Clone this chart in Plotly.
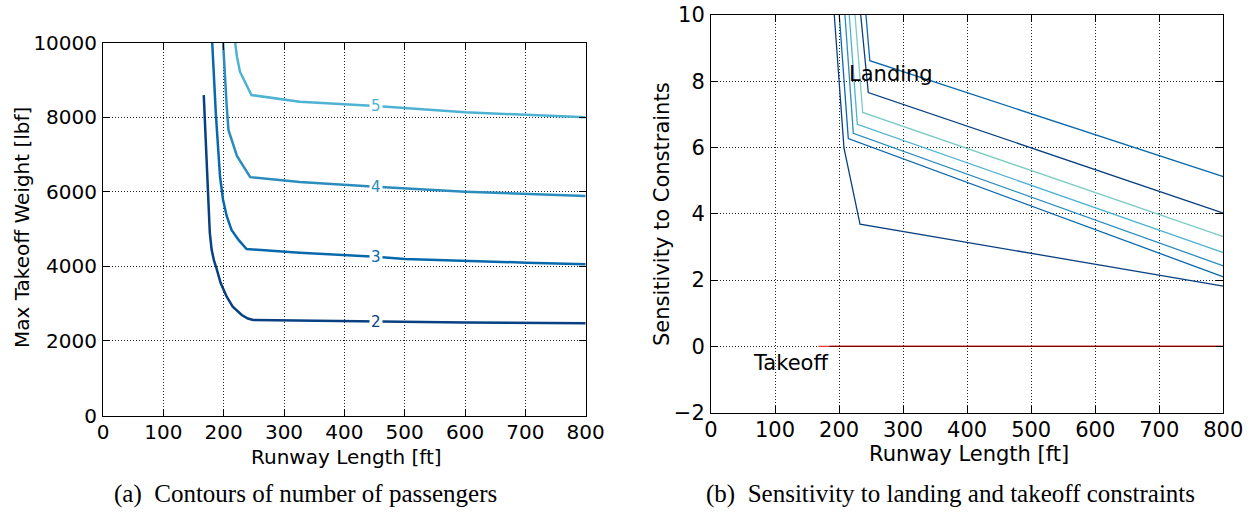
import plotly.graph_objects as go

# ---------------- Left panel data: contours of number of passengers ----------------
pax_levels = [2, 3, 4, 5]
pax_colors = ["#084081", "#0868ac", "#2b8cbe", "#4eb3d3"]

c2_runway = [167, 169, 171, 173, 175, 177, 180, 184, 188, 195, 205, 215, 230, 240, 249, 326, 452, 600, 800]
c2_weight = [8590, 7900, 7300, 6500, 5600, 4900, 4450, 4150, 3950, 3550, 3185, 2920, 2694, 2600, 2560, 2542, 2520, 2495, 2472]

c3_runway = [181, 184, 187, 191, 194, 199, 205, 213, 225, 238, 326, 452, 500, 702, 800]
c3_weight = [10000, 9000, 8100, 7118, 6400, 5777, 5350, 4973, 4700, 4464, 4365, 4257, 4196, 4097, 4054]

c4_runway = [199, 202, 205, 208, 215, 222, 233, 244, 326, 452, 600, 800]
c4_weight = [10000, 9000, 8300, 7650, 7300, 6960, 6670, 6390, 6260, 6130, 6000, 5885]

c5_runway = [219, 222, 227, 246, 326, 452, 600, 800]
c5_weight = [10000, 9620, 9217, 8592, 8413, 8298, 8130, 7995]

contour_runways = [c2_runway, c3_runway, c4_runway, c5_runway]
contour_weights = [c2_weight, c3_weight, c4_weight, c5_weight]
label_runway = 452

# ---------------- Right panel data: sensitivities ----------------
landing_colors = ["#084081", "#0868ac", "#2b8cbe", "#4eb3d3", "#7bccc4", "#084081", "#0868ac"]
landing_runways = [
    [192.5, 207.7, 232.7, 800],
    [200.3, 214.4, 800],
    [209.2, 222.2, 800],
    [215.9, 228.5, 800],
    [224.9, 236.9, 800],
    [233.8, 245.6, 800],
    [242.0, 248.0, 800],
]
landing_sens = [
    [10, 5.98, 3.69, 1.82],
    [10, 6.27, 2.10],
    [10, 6.43, 2.43],
    [10, 6.70, 2.83],
    [10, 7.06, 3.31],
    [10, 7.66, 4.02],
    [10, 8.62, 5.12],
]
takeoff_colors = ["#ef3b2c", "#7f0000"]
takeoff_runways = [[167.7, 800], [185, 800]]
takeoff_sens = [[0, 0], [0, 0]]

x_ticks = [0, 100, 200, 300, 400, 500, 600, 700, 800]
left_y_ticks = [0, 2000, 4000, 6000, 8000, 10000]
right_y_ticks = [-2, 0, 2, 4, 6, 8, 10]

W, H = 1257, 512
FONT = "DejaVu Sans"

fig = go.Figure()

for lvl, col, xs, ys in zip(pax_levels, pax_colors, contour_runways, contour_weights):
    fig.add_trace(go.Scatter(x=xs, y=ys, mode="lines", line=dict(color=col, width=2.5),
                             xaxis="x", yaxis="y", showlegend=False, hoverinfo="skip"))

for col, xs, ys in zip(landing_colors, landing_runways, landing_sens):
    fig.add_trace(go.Scatter(x=xs, y=ys, mode="lines", line=dict(color=col, width=1.3),
                             xaxis="x2", yaxis="y2", showlegend=False, hoverinfo="skip"))
for col, xs, ys in zip(takeoff_colors, takeoff_runways, takeoff_sens):
    fig.add_trace(go.Scatter(x=xs, y=ys, mode="lines", line=dict(color=col, width=1.3),
                             xaxis="x2", yaxis="y2", showlegend=False, hoverinfo="skip"))


def px_x(p):
    return p / W


def px_y(p):
    return 1 - p / H


def axis_common(size, standoff):
    return dict(
        showline=True, linecolor="black", linewidth=1, mirror="ticks",
        ticks="inside", ticklen=7, tickwidth=1, tickcolor="black",
        showgrid=True, gridcolor="#222222", gridwidth=1, griddash="1px,2px",
        zeroline=False, automargin=False, tickformat="d",
        ticklabelstandoff=standoff,
        tickfont=dict(family=FONT, size=size, color="black"),
    )


fig.update_layout(
    width=W, height=H, autosize=False,
    margin=dict(l=0, r=0, t=0, b=0, pad=0),
    paper_bgcolor="white", plot_bgcolor="white",
    font=dict(family=FONT, color="black"),
    xaxis=dict(domain=[px_x(103), px_x(585.7)], range=[0, 800], tickvals=x_ticks,
               anchor="y", **axis_common(20, -2)),
    yaxis=dict(domain=[px_y(415.5), px_y(42.5)], range=[0, 10000], tickvals=left_y_ticks,
               anchor="x", **axis_common(20, 1)),
    xaxis2=dict(domain=[px_x(711), px_x(1223.3)], range=[0, 800], tickvals=x_ticks,
                anchor="y2", **axis_common(21, -2)),
    yaxis2=dict(domain=[px_y(412.7), px_y(15)], range=[-2, 10], tickvals=right_y_ticks,
                anchor="x2", **axis_common(21, 1)),
)

annotations = []
# inline contour labels
for lvl, col, xs, ys in zip(pax_levels, pax_colors, contour_runways, contour_weights):
    annotations.append(dict(x=label_runway, y=ys[xs.index(label_runway)], xref="x", yref="y",
                            text=str(lvl), showarrow=False, bgcolor="white", borderpad=1,
                            font=dict(family=FONT, size=15, color=col),
                            xanchor="center", yanchor="middle"))
# text labels on right panel
annotations.append(dict(x=211.6, y=8.22, xref="x2", yref="y2", text="Landing", showarrow=False,
                        xanchor="left", yanchor="middle", font=dict(family=FONT, size=21, color="black")))
annotations.append(dict(x=62, y=-0.51, xref="x2", yref="y2", text="Takeoff", showarrow=False,
                        xanchor="left", yanchor="middle", font=dict(family=FONT, size=21, color="black")))
# axis titles
annotations.append(dict(x=px_x(346), y=px_y(457), xref="paper", yref="paper", text="Runway Length [ft]",
                        showarrow=False, xanchor="center", yanchor="middle",
                        font=dict(family=FONT, size=20, color="black")))
annotations.append(dict(x=px_x(969), y=px_y(454), xref="paper", yref="paper", text="Runway Length [ft]",
                        showarrow=False, xanchor="center", yanchor="middle",
                        font=dict(family=FONT, size=21, color="black")))
annotations.append(dict(x=px_x(22), y=px_y(228), xref="paper", yref="paper", text="Max Takeoff Weight [lbf]",
                        showarrow=False, xanchor="center", yanchor="middle", textangle=-90,
                        font=dict(family=FONT, size=20, color="black")))
annotations.append(dict(x=px_x(662), y=px_y(214), xref="paper", yref="paper", text="Sensitivity to Constraints",
                        showarrow=False, xanchor="center", yanchor="middle", textangle=-90,
                        font=dict(family=FONT, size=21, color="black")))
# captions
annotations.append(dict(x=px_x(305), y=px_y(494), xref="paper", yref="paper",
                        text="(a)  Contours of number of passengers",
                        showarrow=False, xanchor="center", yanchor="middle",
                        font=dict(family="Liberation Serif", size=25, color="black")))
annotations.append(dict(x=px_x(950), y=px_y(494), xref="paper", yref="paper",
                        text="(b)  Sensitivity to landing and takeoff constraints",
                        showarrow=False, xanchor="center", yanchor="middle",
                        font=dict(family="Liberation Serif", size=25, color="black")))

fig.update_layout(annotations=annotations)

fig.write_html("out.html")
